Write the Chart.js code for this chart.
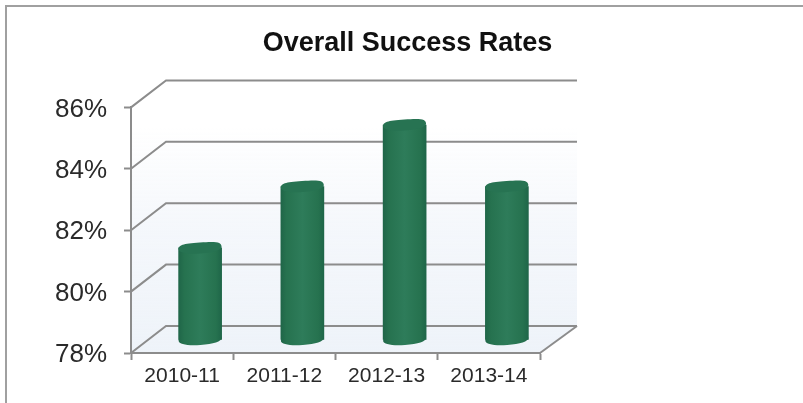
<!DOCTYPE html>
<html>
<head>
<meta charset="utf-8">
<style>
  html, body { margin: 0; padding: 0; background: #fff; overflow: hidden; }
  #wrap { position: relative; width: 803px; height: 403px; }
  #frame { position: absolute; left: 5px; top: 5px; width: 798px; height: 398px;
           border-left: 2px solid #a0a0a0; border-top: 2px solid #a0a0a0; box-sizing: border-box; }
  canvas { position: absolute; left: 0; top: 0; }
</style>
<script src="https://cdn.jsdelivr.net/npm/chart.js@4"></script>
</head>
<body>
<div id="wrap">
  <canvas id="chart" width="803" height="403"></canvas>
  <div id="frame"></div>
</div>
<script>
const categories = ['2010-11', '2011-12', '2012-13', '2013-14'];
const successRates = [81, 83, 85, 83];
const rateTicks = [78, 80, 82, 84, 86];
const titleText = 'Overall Success Rates';

// Depth of the pseudo-3D box, in pixels.
const DEPTH_X = 35, DEPTH_Y = -27;
// The back wall runs a little past the floor's right corner.
const WALL_EXTRA = 2;
// Columns stand halfway into the box.
const BAR_DX = 18, BAR_DY = -13;
const CAP_RY = 5.5, CAP_TILT = -0.07;
const GRID = '#8c8c8c';

// Squarish ellipse used for the ends of a cylinder.
function capPath(ctx, cx, cy, rx, ry) {
  ctx.save();
  ctx.translate(cx, cy);
  ctx.rotate(CAP_TILT);
  ctx.beginPath();
  ctx.moveTo(-rx, 0);
  ctx.bezierCurveTo(-rx, -ry * 0.8, -rx * 0.8, -ry, 0, -ry);
  ctx.bezierCurveTo(rx * 0.8, -ry, rx, -ry * 0.8, rx, 0);
  ctx.bezierCurveTo(rx, ry * 0.6, rx * 0.6, ry, 0, ry);
  ctx.bezierCurveTo(-rx * 0.6, ry, -rx, ry * 0.6, -rx, 0);
  ctx.closePath();
  ctx.restore();
}

// Back wall, side wall, floor and depth grid lines.
const boxPlugin = {
  id: 'box3d',
  beforeDraw(chart) {
    const { ctx, scales: { x, y } } = chart;
    const l = x.left, r = x.right, t = y.top, b = y.bottom;
    ctx.save();
    const tint = ctx.createLinearGradient(0, t + 20, 0, b);
    tint.addColorStop(0, 'rgba(240,244,250,0)');
    tint.addColorStop(0.45, 'rgba(240,244,250,0.7)');
    tint.addColorStop(1, 'rgba(238,243,249,1)');
    ctx.fillStyle = tint;
    ctx.beginPath();
    ctx.moveTo(l, t);
    ctx.lineTo(l + DEPTH_X, t + DEPTH_Y);
    ctx.lineTo(r + DEPTH_X + WALL_EXTRA, t + DEPTH_Y);
    ctx.lineTo(r + DEPTH_X + WALL_EXTRA, b + DEPTH_Y);
    ctx.lineTo(r, b);
    ctx.lineTo(l, b);
    ctx.closePath();
    ctx.fill();
    ctx.restore();
  },
  beforeDatasetsDraw(chart) {
    const { ctx, scales: { x, y } } = chart;
    const l = x.left, r = x.right, b = y.bottom;
    ctx.save();
    ctx.strokeStyle = GRID;
    ctx.lineWidth = 2;
    for (const value of rateTicks) {
      const py = y.getPixelForValue(value);
      ctx.beginPath();
      ctx.moveTo(l, py);
      ctx.lineTo(l + DEPTH_X, py + DEPTH_Y);
      ctx.lineTo(r + DEPTH_X + WALL_EXTRA, py + DEPTH_Y);
      ctx.stroke();
    }
    // Right edge of the floor.
    ctx.beginPath();
    ctx.moveTo(r, b);
    ctx.lineTo(r + DEPTH_X + WALL_EXTRA, b + DEPTH_Y);
    ctx.stroke();
    ctx.restore();
  },
  beforeDatasetDraw(chart) {
    chart.ctx.save();
    chart.ctx.translate(BAR_DX, BAR_DY);
  },
  afterDatasetDraw(chart, args) {
    const { ctx } = chart;
    // Rounded bottom and top of each cylinder.
    for (const bar of args.meta.data) {
      const rx = bar.width / 2;
      ctx.fillStyle = columnFill(ctx, bar.x);
      capPath(ctx, bar.x, bar.base, rx, CAP_RY);
      ctx.fill();
      ctx.fillStyle = '#277352';
      capPath(ctx, bar.x, bar.y, rx, CAP_RY);
      ctx.fill();
    }
    ctx.restore();
  }
};

function columnFill(ctx, centre) {
  const half = 22;
  const g = ctx.createLinearGradient(centre - half, 0, centre + half, 0);
  g.addColorStop(0, '#1f6548');
  g.addColorStop(0.14, '#26724f');
  g.addColorStop(0.5, '#2e7c5a');
  g.addColorStop(0.86, '#26724f');
  g.addColorStop(1, '#1e6548');
  return g;
}

new Chart(document.getElementById('chart'), {
  type: 'bar',
  plugins: [boxPlugin],
  data: {
    labels: categories,
    datasets: [{
      data: successRates,
      base: rateTicks[0],
      clip: false,
      barThickness: 43,
      borderWidth: 0,
      backgroundColor(c) {
        if (c.type !== 'data') return '#277352';
        return columnFill(c.chart.ctx, c.chart.scales.x.getPixelForTick(c.dataIndex));
      }
    }]
  },
  options: {
    responsive: false,
    animation: false,
    layout: { padding: { left: 12, top: 25, right: 0, bottom: 0 } },
    plugins: {
      legend: { display: false },
      tooltip: { enabled: false },
      title: {
        display: true,
        text: titleText,
        color: '#111',
        font: { family: '"Liberation Sans", Arial, sans-serif', size: 27, weight: 'bold', lineHeight: 1.2 },
        padding: { top: 2, bottom: 48 }
      }
    },
    scales: {
      x: {
        offset: true,
        border: { color: GRID, width: 2 },
        grid: { display: true, offset: true, drawOnChartArea: false, drawTicks: true, tickLength: 7, tickWidth: 2, tickColor: GRID },
        ticks: {
          color: '#2a2a2a',
          padding: 4,
          maxRotation: 0,
          font: { family: '"Liberation Sans", Arial, sans-serif', size: 21 }
        },
        afterFit(s) { s.height = 50; }
      },
      y: {
        min: rateTicks[0],
        max: rateTicks[rateTicks.length - 1],
        afterBuildTicks(s) { s.ticks = rateTicks.map(v => ({ value: v })); },
        border: { color: GRID, width: 2 },
        grid: { display: true, drawOnChartArea: false, drawTicks: true, tickLength: 7, tickWidth: 2, tickColor: GRID },
        ticks: {
          color: '#2a2a2a',
          padding: 17,
          labelOffset: 2,
          callback: v => v + '%',
          font: { family: '"Liberation Sans", Arial, sans-serif', size: 26 }
        },
        afterFit(s) { s.width = 119; }
      },
      // Blank band that keeps the space to the right of the plot free.
      margin: {
        position: 'right',
        min: 0,
        max: 1,
        grid: { display: false, drawTicks: false },
        border: { display: false },
        ticks: { display: false },
        afterFit(s) { s.width = 263; }
      }
    }
  }
});
</script>
</body>
</html>
